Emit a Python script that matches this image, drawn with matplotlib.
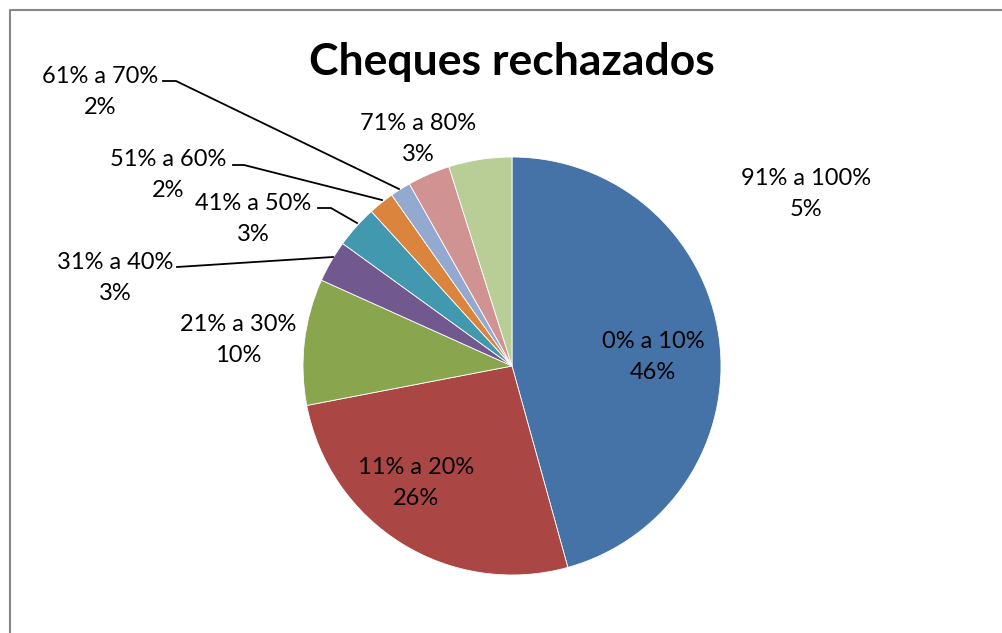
import numpy as np
import matplotlib.pyplot as plt

plt.rcParams['font.family'] = ['Lato', 'DejaVu Sans']

# rangos de cheques rechazados (sentido horario desde arriba)
rangos = ['0% a 10%', '11% a 20%', '21% a 30%', '31% a 40%', '41% a 50%',
          '51% a 60%', '61% a 70%', '71% a 80%', '91% a 100%']
valores = [45.9, 26.4, 9.8, 3.25, 3.3, 2.0, 1.6, 3.3, 4.9]
colores = ['#4572A7', '#AA4643', '#89A54E', '#71588F', '#4198AF',
           '#DB843D', '#93A9CF', '#D19392', '#B9CD96']

# posiciones de etiquetas en pixeles (centro del texto)
pos_etiq = [(653, 357), (416, 483), (238, 340), (115, 278), (253, 219),
            (168, 175), (100, 92), (418, 139), (806, 194)]
# lineas guia (pixeles) para las porciones chicas
guias = {3: [(177, 267), (333, 257)],
         4: [(318, 208), (331, 208), (357, 223)],
         5: [(233, 165), (244, 165), (382, 200)],
         6: [(163, 81), (176, 81), (399, 189)]}

W, H = 1002, 633
cx, cy, r = 512, 366, 209

fig = plt.figure(figsize=(W / 100, H / 100), dpi=100)
ax = fig.add_axes([(cx - r) / W, (H - cy - r) / H, 2 * r / W, 2 * r / H])

ax.pie(valores, colors=colores, startangle=90, counterclock=False,
       wedgeprops=dict(edgecolor='white', linewidth=0.6))
ax.set_xlim(-1, 1)
ax.set_ylim(-1, 1)
ax.axis('off')


def a_datos(px, py):
    return (px - cx) / r, (cy - py) / r


total = sum(valores)
for i, nombre in enumerate(rangos):
    x, y = a_datos(*pos_etiq[i])
    pct = valores[i] / total * 100
    ax.text(x, y, nombre + '\n' + '%.0f%%' % pct, ha='center', va='center',
            fontsize=17, linespacing=1.6, clip_on=False)

for i, pts in guias.items():
    xs, ys = zip(*[a_datos(px, py) for px, py in pts])
    ax.plot(xs, ys, color='black', lw=1.3, clip_on=False)

fig.text(512 / W, 1 - 62 / H, 'Cheques rechazados', ha='center', va='center',
         fontsize=32, fontweight='bold')

# marco del grafico (solo borde superior e izquierdo visibles)
fig.add_artist(plt.Line2D([10 / W, 10 / W, 1], [0, 1 - 10 / H, 1 - 10 / H],
                          transform=fig.transFigure, color='#888888', lw=1.5))

fig.savefig('out.png', dpi=100)
